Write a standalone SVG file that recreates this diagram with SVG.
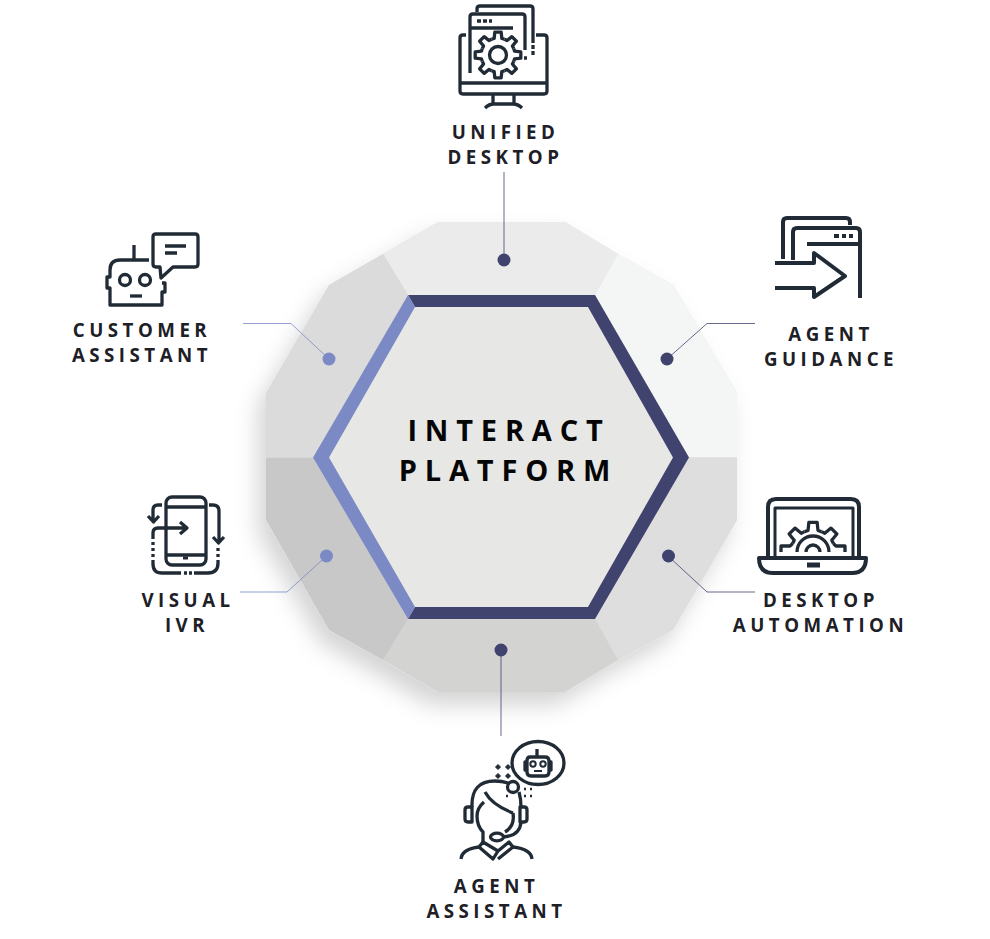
<svg xmlns="http://www.w3.org/2000/svg" width="990" height="939" viewBox="0 0 990 939">
<style>
.lb{font-family:"Open Sans","Liberation Sans",sans-serif;font-weight:700;font-size:18.700px;letter-spacing:4.500px;fill:#1d2026;text-anchor:middle}
.ti{font-family:"Open Sans","Liberation Sans",sans-serif;font-weight:700;font-size:29px;letter-spacing:7.800px;fill:#050505;text-anchor:middle}
.ic{fill:none;stroke:#212b36;stroke-width:3.300;stroke-linejoin:round;stroke-linecap:butt}
.ic4{stroke-width:4}
.dk{fill:#41436f}.lt{fill:#7b8ac4}
.cd{fill:none;stroke:#41436f;stroke-width:1;opacity:.8}
.cl{fill:none;stroke:#7b8ac4;stroke-width:1;opacity:.8}
</style>
<defs>
<filter id="sh" x="-20%" y="-20%" width="140%" height="140%"><feDropShadow dx="-8" dy="13" stdDeviation="11" flood-color="#000" flood-opacity=".17"/></filter>
<path id="tooth" d="M-6.5,-15.7 L-3.8,-16.6 L-3.2,-22.8 H3.2 L3.8,-16.6 L6.5,-15.7"/>
</defs>
<g id="platform">
<polygon filter="url(#sh)" fill="#ddd" points="438,222 565,222 618,254 673,285 737,393 737,520 673,630 618,660 565,692 438,692 383,660 329,630 266,520 266,393 329,285 383,254"/>
<polygon fill="#ebebeb" points="383,254 438,222 565,222 618,254 595,295 408,295"/>
<polygon fill="#f4f6f5" points="618,254 673,285 737,393 737,457.5 689,457.5 595,295"/>
<polygon fill="#dedede" points="689,457.5 737,457.5 737,520 673,630 618,660 595,619"/>
<polygon fill="#d3d3d2" points="595,619 618,660 565,692 438,692 383,660 408,619"/>
<polygon fill="#c8c8c8" points="408,619 383,660 329,630 266,520 266,457.5 313,457.5"/>
<polygon fill="#dbdbdb" points="313,457.5 266,457.5 266,393 329,285 383,254 408,295"/>
<polygon fill="#e7e7e6" points="415,307 588,307 673,457.5 588,607 415,607 329,457.5"/>
<polygon class="dk" points="408,295 595,295 689,457.5 595,619 408,619 415,607 588,607 673,457.5 588,307 415,307"/>
<polygon class="lt" points="408,295 313,457.5 408,619 415,607 329,457.5 415,307"/>
<text class="ti" x="509" y="441">INTERACT</text>
<text class="ti" x="508.500" y="481">PLATFORM</text>
</g>
<g id="connectors">
<path class="cd" d="M504,172V260"/>
<path class="cd" d="M755,323.5H707L667,359"/>
<path class="cd" d="M755,592H707L668,556"/>
<path class="cd" d="M501,650V736"/>
<path class="cl" d="M240,592H287L326.500,556"/>
<path class="cl" d="M243,323.500H291L329,359"/>
<circle class="dk" cx="504" cy="260" r="6.500"/>
<circle class="dk" cx="667" cy="359" r="6.500"/>
<circle class="dk" cx="668.500" cy="556" r="6.500"/>
<circle class="dk" cx="501" cy="650" r="6.500"/>
<circle class="lt" cx="326.500" cy="556" r="6.500"/>
<circle class="lt" cx="329" cy="359" r="6.500"/>
</g>
<g id="unified-desktop">
<g class="ic">
<path d="M477,12V9q0,-3 3,-3H530q3,0 3,3V43M533,45V49M533,51V55"/>
<path d="M470,73V17q0,-3 3,-3H522q3,0 3,3V50M524,58H527"/>
<path d="M470,28H513M477,21H481M483,21H487M489,21H492"/>
<path d="M466,35H463q-3,0 -3,3V91q0,3 3,3H544q3,0 3,-3V38q0,-3 -3,-3H536"/>
<path d="M460,83H547M493,95V105M514,95V105M485,108Q489,104 494,104H513Q518,104 522,108"/>
<g transform="translate(498,55)">
<use href="#tooth"/><use href="#tooth" transform="rotate(45)"/><use href="#tooth" transform="rotate(90)"/><use href="#tooth" transform="rotate(135)"/><use href="#tooth" transform="rotate(180)"/><use href="#tooth" transform="rotate(225)"/><use href="#tooth" transform="rotate(270)"/><use href="#tooth" transform="rotate(315)"/>
<circle r="8.500"/>
</g>
</g>
<text class="lb" x="505.500" y="138.500">UNIFIED</text>
<text class="lb" x="505.500" y="163.500">DESKTOP</text>
</g>
<g id="agent-guidance">
<g class="ic ic4">
<path d="M783,259V222q0,-4 4,-4H846q4,0 4,4V225"/>
<path d="M793,260V232q0,-4 4,-4H856q4,0 4,4V298"/>
<path d="M807,244H860M834,236H839M842,236H846M849,236H853"/>
<path d="M775,263H814V253L845,276L814,297V288H775"/>
</g>
<text class="lb" x="831" y="341">AGENT</text>
<text class="lb" x="831" y="365.500">GUIDANCE</text>
</g>
<g id="desktop-automation">
<g class="ic ic4">
<path d="M768,557V507q0,-8 8,-8H851q8,0 8,8V557"/>
<path d="M775,557V508H853V557" stroke-width="3"/>
<path d="M759,558H866q0,15 -14,15H773q-14,0 -14,-15Z"/>
<path d="M807,565H820" stroke-width="5"/>
</g>
<g class="ic" transform="translate(813,552)">
<path d="M-32,0V-6H-23L-20.300,-8.400"/>
<path d="M32,0V-6H23L20.300,-8.400"/>
<g transform="scale(1.3)" stroke-width="2.500">
<use href="#tooth" transform="rotate(-45)"/><use href="#tooth"/><use href="#tooth" transform="rotate(45)"/>
</g>
<path d="M-16,0A16,16 0 0 1 16,0M-7,0A7,7 0 0 1 7,0"/>
</g>
<text class="lb" x="821" y="607">DESKTOP</text>
<text class="lb" x="820.500" y="631.500">AUTOMATION</text>
</g>
<g id="agent-assistant">
<g class="ic" stroke-linecap="round">
<ellipse cx="538" cy="763" rx="26" ry="21.500"/>
<path d="M537,749V757M530,757H545q4,0 4,4V772q0,4 -4,4H531q-4,0 -4,-4V761q0,-4 3,-4ZM527,762H525V770H527M549,762H551V770H549"/>
<circle cx="533" cy="764" r="2.700" stroke-width="2"/><circle cx="543" cy="764" r="2.700" stroke-width="2"/>
<path d="M534,771H542" stroke-width="2"/>
<path fill="#212b36" d="M498,764.500L500.500,767L498,769.500L495.500,767ZM508,764.500L510.500,767L508,769.500L505.500,767ZM498,773.500L500.500,776L498,778.500L495.500,776ZM508,773.500L510.500,776L508,778.500L505.500,776Z" stroke-width="1"/>
<path d="M524,789H526M530,789H532M524,796H526M530,796H532M506,796H508" stroke-width="2.500"/>
<circle cx="513" cy="787" r="5.500"/>
<path d="M472,807Q471,781 495,781Q502,781 508,783M519,792Q521,799 521,807"/>
<path d="M472,807H468q-3,0 -3,3V819q0,3 3,3H472ZM520,807H524q3,0 3,3V819q0,3 -3,3H520Z"/>
<path d="M485,792Q492,805 513,813"/>
<path d="M484,802Q477,808 477,816Q477,826 483,832V843"/>
<path d="M513,813Q515,826 505,832"/>
<path d="M521,822Q520,836 503,837"/>
<ellipse cx="497" cy="837" rx="6.500" ry="3.800"/>
<path d="M479,847L483,842L498,851L493,859ZM498,851L509,842L513,847L498,859"/>
<path d="M461,859Q462,849 479,847M513,847Q531,849 532,859"/>
</g>
<text class="lb" x="496.500" y="893">AGENT</text>
<text class="lb" x="496.500" y="917.500">ASSISTANT</text>
</g>
<g id="visual-ivr">
<g class="ic">
<rect x="166" y="497" width="40" height="68" rx="6"/>
<path d="M166,507H206M166,555H206"/>
<path d="M183,558H188" stroke-width="3"/>
<path d="M209,505H213q6,0 6,6V541M213,537L218.500,543L224,537"/>
<path d="M218,548V551M218,554V557M218,560V563q0,10 -10,10H194"/>
<path d="M184,573H187M189,573H192"/>
<path d="M153,560V564q0,9 9,9H181"/>
<path d="M153,542V545M153,548V551M153,554V557"/>
<path d="M153,539V533q0,-5 5,-5H186M180,522L187,528L180,534"/>
<path d="M162,505H158q-5,0 -5,5V521M148,516L153.500,522L159,516"/>
</g>
<text class="lb" x="188" y="607">VISUAL</text>
<text class="lb" x="187" y="631.500">IVR</text>
</g>
<g id="customer-assistant">
<g class="ic">
<path d="M134,245V260M149,260H120q-10,0 -10,10V277H107V288H110V305H162V292H165V283H162"/>
<circle cx="125" cy="280" r="5.500"/><circle cx="145" cy="280" r="5.500"/>
<path d="M130,296H142"/>
<path d="M160,267H156q-3,0 -3,-3V237q0,-3 3,-3H195q3,0 3,3V264q0,3 -3,3H173L161,278Z"/>
<path d="M165,246H186M165,253H177"/>
</g>
<text class="lb" x="142" y="337">CUSTOMER</text>
<text class="lb" x="142" y="362">ASSISTANT</text>
</g>
</svg>
